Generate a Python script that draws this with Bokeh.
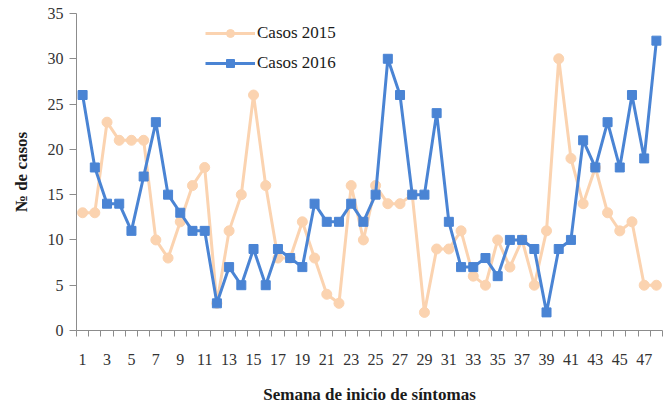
from bokeh.plotting import figure
from bokeh.models import FixedTicker, Range1d, Legend, LegendItem, ColumnDataSource
from bokeh.embed import file_html
from bokeh.resources import INLINE

weeks = list(range(1, 49))
casos_2015 = [13, 13, 23, 21, 21, 21, 10, 8, 12, 16, 18, 3, 11, 15, 26, 16, 8, 8, 12, 8,
              4, 3, 16, 10, 16, 14, 14, 15, 2, 9, 9, 11, 6, 5, 10, 7, 10, 5, 11, 30,
              19, 14, 18, 13, 11, 12, 5, 5]
casos_2016 = [26, 18, 14, 14, 11, 17, 23, 15, 13, 11, 11, 3, 7, 5, 9, 5, 9, 8, 7, 14,
              12, 12, 14, 12, 15, 30, 26, 15, 15, 24, 12, 7, 7, 8, 6, 10, 10, 9, 2, 9,
              10, 21, 18, 23, 18, 26, 19, 32]
y_ticks = [0, 5, 10, 15, 20, 25, 30, 35]
x_label_ticks = list(range(1, 49, 2))

src = ColumnDataSource(dict(w=weeks, a=casos_2015, b=casos_2016))

FONT = "Liberation Serif"
ORANGE = "#FBD3B0"
BLUE = "#4A84D4"
AXIS = "#8C8C8C"

p = figure(width=663, height=406, output_backend="svg", toolbar_location=None,
           x_range=Range1d(0.5, 48.5), y_range=Range1d(0, 35),
           min_border_left=76, min_border_right=1, min_border_top=13, min_border_bottom=75)
p.outline_line_color = None
p.xgrid.visible = False
p.ygrid.visible = False

l1 = p.line("w", "a", source=src, line_color=ORANGE, line_width=3)
m1 = p.scatter("w", "a", source=src, marker="circle", size=10, fill_color=ORANGE, line_color=ORANGE)
l2 = p.line("w", "b", source=src, line_color=BLUE, line_width=3)
m2 = p.scatter("w", "b", source=src, marker="square", size=9, fill_color=BLUE, line_color=BLUE)

xa = p.xaxis[0]
xa.ticker = FixedTicker(ticks=x_label_ticks, minor_ticks=[w - 0.5 for w in weeks] + [48.5])
xa.major_tick_out = 0
xa.major_tick_in = 0
xa.minor_tick_out = 6
xa.minor_tick_in = 0
xa.minor_tick_line_color = AXIS
xa.axis_line_color = AXIS
xa.major_label_standoff = 17
xa.major_label_text_font = FONT
xa.major_label_text_font_size = "16px"
xa.major_label_text_color = "#333333"
xa.axis_label = "Semana de inicio de síntomas"
xa.axis_label_text_font = FONT
xa.axis_label_text_font_style = "bold"
xa.axis_label_text_font_size = "17px"
xa.axis_label_text_color = "#1a1a1a"
xa.axis_label_standoff = 17

ya = p.yaxis[0]
ya.ticker = FixedTicker(ticks=y_ticks)
ya.minor_tick_out = 0
ya.minor_tick_in = 0
ya.major_tick_out = 7
ya.major_tick_in = 0
ya.major_tick_line_color = AXIS
ya.axis_line_color = AXIS
ya.major_label_standoff = 6
ya.major_label_text_font = FONT
ya.major_label_text_font_size = "16px"
ya.major_label_text_color = "#333333"
ya.axis_label = "№ de casos"
ya.axis_label_text_font = FONT
ya.axis_label_text_font_style = "bold"
ya.axis_label_text_font_size = "17px"
ya.axis_label_text_color = "#1a1a1a"
ya.axis_label_standoff = 14

legend = Legend(items=[LegendItem(label="Casos 2015", renderers=[l1, m1]),
                       LegendItem(label="Casos 2016", renderers=[l2, m2])],
                location=(129, 257), margin=0, padding=0, spacing=10,
                glyph_width=50, glyph_height=20, label_standoff=2,
                label_text_font=FONT, label_text_font_size="17px",
                label_text_color="#1a1a1a",
                border_line_color=None, background_fill_alpha=0)
p.add_layout(legend)

open("out.html", "w").write(file_html(p, INLINE))
